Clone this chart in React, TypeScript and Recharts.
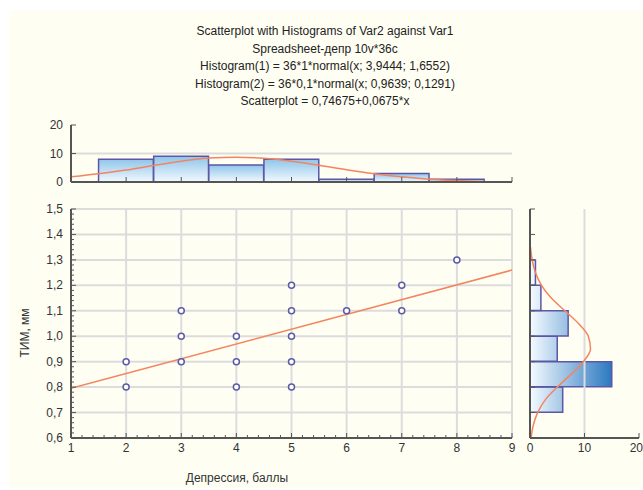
import { Bar, ComposedChart, Line, ReferenceLine, Scatter, XAxis, YAxis } from "recharts";

// ---- data ----
const titleLines = [
  "Scatterplot with Histograms of Var2 against Var1",
  "Spreadsheet-депр 10v*36c",
  "Histogram(1) = 36*1*normal(x; 3,9444; 1,6552)",
  "Histogram(2) = 36*0,1*normal(x; 0,9639; 0,1291)",
  "Scatterplot = 0,74675+0,0675*x",
];
const xLabel = "Депрессия, баллы";
const yLabel = "ТИМ, мм";

// scatter points (duplicates overlap, so only distinct points are listed)
const depression = [2, 2, 3, 3, 3, 4, 4, 4, 5, 5, 5, 5, 5, 6, 7, 7, 8];
const tim = [0.8, 0.9, 0.9, 1.0, 1.1, 0.8, 0.9, 1.0, 0.8, 0.9, 1.0, 1.1, 1.2, 1.1, 1.1, 1.2, 1.3];

// fitted line as drawn
const fitX = [1, 9];
const fitY = [0.795, 1.26];

// top histogram (Var1)
const histXBins = [2, 3, 4, 5, 6, 7, 8];
const histXCounts = [8, 9, 6, 8, 1, 3, 1];
const curveXAt = [1, 1.5, 2, 2.5, 3, 3.5, 4, 4.5, 5, 5.5, 6, 6.5, 7, 7.5, 8, 8.5];
const curveXVal = [1.8, 2.9, 4.2, 5.8, 7.3, 8.4, 8.7, 8.3, 7.3, 5.9, 4.3, 2.9, 1.8, 1.0, 0.5, 0.2];

// right histogram (Var2)
const histYBins = [0.75, 0.85, 0.95, 1.05, 1.15, 1.25];
const histYCounts = [6, 15, 5, 7, 2, 1];
const curveYAt = [0.6, 0.65, 0.7, 0.75, 0.8, 0.85, 0.9, 0.95, 1.0, 1.05, 1.1, 1.15, 1.2, 1.25, 1.3, 1.35];
const curveYVal = [0.2, 0.6, 1.4, 2.8, 5.0, 7.5, 9.8, 11.1, 10.7, 8.9, 6.4, 3.9, 2.1, 1.0, 0.4, 0.1];

// tick labels
const xTicks = [1, 2, 3, 4, 5, 6, 7, 8, 9];
const yTicks = [0.6, 0.7, 0.8, 0.9, 1.0, 1.1, 1.2, 1.3, 1.4, 1.5];
const countTicks = [0, 10, 20];

// ---- styling ----
const FONT = '"Liberation Sans", Arial, sans-serif';
const AXIS = "#555";
const GRID = "#dcdcdc";
const TXT = "#333";
const FIT = "#f4845f";
const BAR_STROKE = "#5c56a6";
const DOT = "#5b5ba8";

const steps = (a: number, b: number, s: number) => {
  const out: number[] = [];
  const n = Math.round((b - a) / s);
  for (let i = 0; i <= n; i++) out.push(Math.round((a + i * s) * 1000) / 1000);
  return out;
};
const xMinor = steps(1, 9, 0.2);
const yMinor = steps(0.6, 1.5, 0.02);
const isInt = (v: number) => Math.abs(v - Math.round(v)) < 1e-6;
const isTenth = (v: number) => Math.abs(v * 10 - Math.round(v * 10)) < 1e-6;
const comma = (v: number) => v.toFixed(1).replace(".", ",");

type Side = "bottom" | "top" | "left" | "right";
const makeTick =
  (side: Side, isMajor: (v: number) => boolean, labelOf?: (v: number) => string | null, maxX = 9999) =>
  (props: any) => {
    const { x, y, payload } = props;
    const v = payload.value as number;
    const len = isMajor(v) ? 5 : 3;
    const ln =
      side === "bottom"
        ? { x1: x, x2: x, y1: y, y2: y - len }
        : side === "top"
        ? { x1: x, x2: x, y1: y, y2: y + len }
        : side === "left"
        ? { x1: x, x2: x + len, y1: y, y2: y }
        : { x1: x, x2: x - len, y1: y, y2: y };
    const label = labelOf ? labelOf(v) : null;
    const nearEdge = x + 7 > maxX;
    return (
      <g>
        <line {...ln} stroke={AXIS} strokeWidth={1} />
        {label !== null && side === "bottom" && (
          <text
            x={nearEdge ? maxX : x}
            y={y + 14}
            textAnchor={nearEdge ? "end" : "middle"}
            fill={TXT}
            fontSize={12}
            fontFamily={FONT}
          >
            {label}
          </text>
        )}
        {label !== null && side === "left" && (
          <text x={x - 8} y={y + 4} textAnchor="end" fill={TXT} fontSize={12} fontFamily={FONT}>
            {label}
          </text>
        )}
      </g>
    );
  };

const axisLine = { stroke: AXIS, strokeWidth: 2 };
const common = { tickLine: false, tickSize: 0, tickMargin: 0, interval: 0 as const, allowDataOverflow: true, axisLine };

const points = depression.map((x, i) => ({ x, y: tim[i] }));
const fitData = fitX.map((x, i) => ({ x, y: fitY[i] }));
const topBins = histXBins.map((x, i) => ({ x, count: histXCounts[i] }));
const topCurve = curveXAt.map((x, i) => ({ x, val: curveXVal[i] }));
const rightBins = histYBins.map((y, i) => ({ y, count: histYCounts[i] }));
const rightCurve = curveYAt.map((y, i) => ({ y, val: curveYVal[i] }));

// geometry
const MAIN_W = 530;
const MAIN_H = 300;
const PLOT_L = 71;
const PLOT_R = 18;
const PLOT_T = 19;
const X_AX_H = 52;
const TOP_H = 80;
const TOP_T = 15;
const TOP_AX_H = 8;
// a hair under the band so recharts keeps the given size instead of shrinking to 90%
const TOP_BAR = ((MAIN_W - PLOT_L - PLOT_R) / (xTicks[xTicks.length - 1] - xTicks[0])) * 1 - 0.3;
const RIGHT_BAR = ((MAIN_H - PLOT_T - X_AX_H) / (yTicks[yTicks.length - 1] - yTicks[0])) * 0.1 - 0.3;

function Circle(props: any) {
  return <circle cx={props.cx} cy={props.cy} r={3} fill="#fff" stroke={DOT} strokeWidth={1.5} />;
}

export default function App() {
  return (
    <div style={{ position: "absolute", left: 0, top: 0, width: 643, height: 490, overflow: "hidden", fontFamily: FONT }}>
      <div style={{ position: "absolute", left: 9, top: 10, width: 634, height: 478, background: "#fffef3" }} />
      <div style={{ position: "absolute", left: 0, top: 23, width: 650, textAlign: "center", fontSize: 12, lineHeight: "17.5px", color: "#222" }}>
        {titleLines.map((t) => (
          <div key={t}>{t}</div>
        ))}
      </div>

      {/* top histogram */}
      <div style={{ position: "absolute", left: 0, top: 110 }}>
        <ComposedChart
          width={MAIN_W}
          height={TOP_H}
          data={topBins}
          barCategoryGap={0}
          barGap={0}
          margin={{ top: TOP_T, right: PLOT_R, bottom: 0, left: 0 }}
        >
          <defs>
            <linearGradient id="gTop" x1="0" y1="0" x2="0" y2="1">
              <stop offset="0%" stopColor="#8fc5ea" />
              <stop offset="100%" stopColor="#f2f9fe" />
            </linearGradient>
          </defs>
          <ReferenceLine y={10} stroke={GRID} strokeWidth={2} />
          <XAxis type="number" dataKey="x" domain={[1, 9]} ticks={xTicks} height={TOP_AX_H} {...common} tick={makeTick("bottom", () => true)} />
          <XAxis xAxisId="top" dataKey="x" orientation="top" type="number" domain={[1, 9]} ticks={xTicks} height={0} {...common} tick={makeTick("top", () => true)} />
          <YAxis type="number" domain={[0, 20]} ticks={countTicks} width={PLOT_L} {...common} tick={makeTick("left", () => true, (v) => String(v))} />
          <YAxis yAxisId="right" orientation="right" type="number" domain={[0, 20]} ticks={countTicks} width={0} {...common} tick={makeTick("right", () => true)} />
          <Bar dataKey="count" barSize={TOP_BAR} fill="url(#gTop)" stroke={BAR_STROKE} strokeWidth={1.5} isAnimationActive={false} />
          <Line data={topCurve} xAxisId="top" dataKey="val" type="monotone" stroke={FIT} strokeWidth={1.5} dot={false} isAnimationActive={false} />
        </ComposedChart>
      </div>

      {/* scatterplot */}
      <div style={{ position: "absolute", left: 0, top: 190 }}>
        <ComposedChart width={MAIN_W} height={MAIN_H} margin={{ top: PLOT_T, right: PLOT_R, bottom: 0, left: 0 }}>
          {yTicks.map((v) => (
            <ReferenceLine key={"h" + v} y={v} stroke={GRID} strokeWidth={2} />
          ))}
          {xTicks.map((v) => (
            <ReferenceLine key={"v" + v} x={v} stroke={GRID} strokeWidth={2} />
          ))}
          <XAxis type="number" dataKey="x" domain={[1, 9]} ticks={xMinor} height={X_AX_H} {...common} tick={makeTick("bottom", isInt, (v) => (isInt(v) ? String(Math.round(v)) : null))} />
          <XAxis xAxisId="top" orientation="top" type="number" domain={[1, 9]} ticks={xMinor} height={0} {...common} tick={makeTick("top", isInt)} />
          <YAxis type="number" dataKey="y" domain={[0.6, 1.5]} ticks={yMinor} width={PLOT_L} {...common} tick={makeTick("left", isTenth, (v) => (isTenth(v) ? comma(v) : null))} />
          <YAxis yAxisId="right" orientation="right" type="number" domain={[0.6, 1.5]} ticks={yMinor} width={0} {...common} tick={makeTick("right", isTenth)} />
          <Line data={fitData} dataKey="y" type="linear" stroke={FIT} strokeWidth={1.5} dot={false} isAnimationActive={false} />
          <Scatter data={points} shape={Circle} isAnimationActive={false} />
        </ComposedChart>
      </div>

      {/* right histogram */}
      <div style={{ position: "absolute", left: 510, top: 190 }}>
        <ComposedChart
          layout="vertical"
          width={133}
          height={MAIN_H}
          data={rightBins}
          barCategoryGap={0}
          barGap={0}
          margin={{ top: PLOT_T, right: 4, bottom: 0, left: 0 }}
        >
          <defs>
            <linearGradient id="gRight" gradientUnits="userSpaceOnUse" x1="20" y1="0" x2="102" y2="0">
              <stop offset="0%" stopColor="#f5fbff" />
              <stop offset="100%" stopColor="#2a78c0" />
            </linearGradient>
          </defs>
          <ReferenceLine x={10} stroke={GRID} strokeWidth={2} />
          <XAxis type="number" domain={[0, 20]} ticks={countTicks} height={X_AX_H} {...common} tick={makeTick("bottom", () => true, (v) => String(v), 133)} />
          <XAxis xAxisId="top" orientation="top" type="number" domain={[0, 20]} ticks={countTicks} height={0} {...common} tick={makeTick("top", () => true)} />
          <YAxis type="number" dataKey="y" reversed domain={[0.6, 1.5]} ticks={yTicks} width={20} {...common} tick={makeTick("left", () => true)} />
          <YAxis yAxisId="right" dataKey="y" reversed orientation="right" type="number" domain={[0.6, 1.5]} ticks={yTicks} width={0} {...common} tick={makeTick("right", () => true)} />
          <Bar dataKey="count" barSize={RIGHT_BAR} fill="url(#gRight)" stroke={BAR_STROKE} strokeWidth={1.5} isAnimationActive={false} />
          <Line data={rightCurve} yAxisId="right" dataKey="val" type="monotone" stroke={FIT} strokeWidth={1.5} dot={false} isAnimationActive={false} />
        </ComposedChart>
      </div>

      {/* axis titles */}
      <div style={{ position: "absolute", left: 137, top: 471, width: 200, textAlign: "center", fontSize: 12, lineHeight: "14px", color: TXT }}>{xLabel}</div>
      <div style={{ position: "absolute", left: 25, top: 333, width: 100, marginLeft: -50, marginTop: -7, lineHeight: "14px", textAlign: "center", fontSize: 12, color: TXT, transform: "rotate(-90deg)" }}>
        {yLabel}
      </div>
    </div>
  );
}
